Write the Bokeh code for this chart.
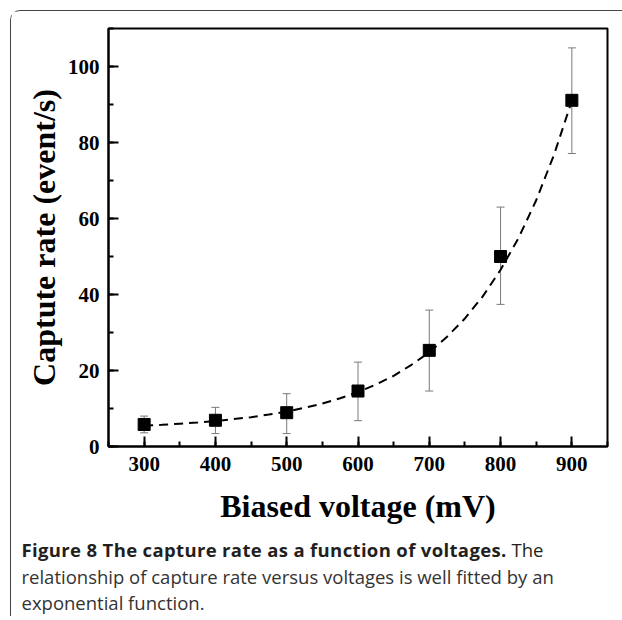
from bokeh.plotting import figure
from bokeh.models import (ColumnDataSource, Range1d, Whisker, TeeHead,
                          SingleIntervalTicker, Div)
from bokeh.layouts import column
from bokeh.embed import file_html
from bokeh.resources import INLINE

# ---- data ----
voltage = [300, 400, 500, 600, 700, 800, 900]
rate = [5.8, 6.9, 8.9, 14.6, 25.3, 50.0, 91.1]
rate_upper = [8.0, 10.3, 13.9, 22.2, 35.9, 63.0, 104.9]
rate_lower = [3.6, 3.4, 3.4, 6.8, 14.6, 37.4, 77.1]

fit_voltage = [300, 325, 350, 375, 400, 425, 450, 475, 500, 525, 550, 575, 600,
               625, 650, 675, 700, 725, 750, 775, 800, 825, 850, 875, 900]
fit_rate = [5.5, 5.7, 6.0, 6.3, 6.7, 7.2, 7.7, 8.4, 9.2, 10.2, 11.3, 12.7, 14.3,
            16.3, 18.6, 21.5, 24.8, 28.9, 33.7, 39.5, 46.5, 54.8, 64.8, 76.8, 91.0]

x_title = "Biased voltage (mV)"
y_title = "Captute rate (event/s)"
caption_bold = "Figure 8 The capture rate as a function of voltages."
caption_lines = ["The",
                 "relationship of capture rate versus voltages is well fitted by an",
                 "exponential function."]

SERIF = "Liberation Serif"
CAP_FONT = "Open Sans"
CAP_COLOR = "#231f20"

p = figure(width=606, height=520, x_range=Range1d(250, 950), y_range=Range1d(0, 110),
           output_backend="svg", toolbar_location=None,
           min_border_left=97, min_border_right=10, min_border_top=17, min_border_bottom=85)
p.xgrid.visible = False
p.ygrid.visible = False
p.outline_line_color = "black"
p.outline_line_width = 2
p.background_fill_color = "white"
p.border_fill_color = "white"

p.xaxis.ticker = SingleIntervalTicker(interval=100, num_minor_ticks=2)
p.yaxis.ticker = SingleIntervalTicker(interval=20, num_minor_ticks=2)

for ax in (p.xaxis[0], p.yaxis[0]):
    ax.axis_line_width = 2
    ax.major_tick_line_width = 2
    ax.minor_tick_line_width = 2
    ax.major_tick_in = 10
    ax.major_tick_out = 0
    ax.minor_tick_in = 5
    ax.minor_tick_out = 0
    ax.major_label_text_font = SERIF
    ax.major_label_text_font_style = "bold"
    ax.major_label_text_font_size = "21px"
    ax.major_label_text_color = "black"
    ax.axis_label_text_font = SERIF
    ax.axis_label_text_font_style = "bold"
    ax.axis_label_text_font_size = "32px"
    ax.axis_label_text_color = "black"

p.xaxis.axis_label = x_title
p.yaxis.axis_label = y_title
p.xaxis.major_label_standoff = 10
p.yaxis.major_label_standoff = 9
p.xaxis.axis_label_standoff = 14
p.yaxis.axis_label_standoff = 3

src = ColumnDataSource(dict(x=voltage, y=rate, upper=rate_upper, lower=rate_lower))
wh = Whisker(source=src, base="x", upper="upper", lower="lower",
             line_color="#7a7a7a", line_width=1,
             upper_head=TeeHead(size=8, line_color="#7a7a7a", line_width=1),
             lower_head=TeeHead(size=8, line_color="#7a7a7a", line_width=1))
p.add_layout(wh)

p.line(fit_voltage, fit_rate, line_color="black", line_width=2, line_dash="9 6")
p.scatter("x", "y", source=src, marker="square", size=12, fill_color="black",
          line_color="black")

caption_html = (
    f'<div style="font-family:\'{CAP_FONT}\'; font-size:18.5px; line-height:26.5px; '
    f'color:{CAP_COLOR}; padding-top:1px; padding-left:5.5px; white-space:nowrap;">'
    f'<b style="letter-spacing:0.35px;">{caption_bold}</b> {caption_lines[0]}<br>'
    f'<span style="color:#333333;">{caption_lines[1]}<br>{caption_lines[2]}</span>'
    f'</div>'
)
cap = Div(text=caption_html, width=606, height=75)

page = column(p, cap, spacing=0,
              styles={"margin-left": "10px", "margin-top": "10px",
                      "border-left": "1.5px solid #444444",
                      "border-top": "1.5px solid #444444",
                      "border-top-left-radius": "10px"})

open("out.html", "w").write(file_html(page, INLINE))
